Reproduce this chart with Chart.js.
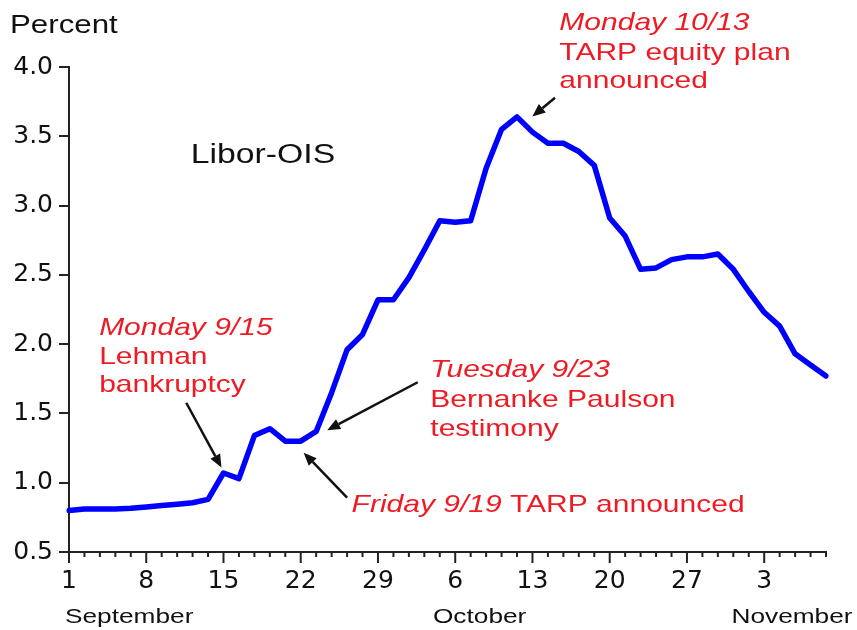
<!DOCTYPE html>
<html>
<head>
<meta charset="utf-8">
<title>Libor-OIS spread, autumn 2008</title>
<script src="https://cdn.jsdelivr.net/npm/chart.js@4.4.1/dist/chart.umd.min.js"></script>
<style>
  html, body { margin: 0; padding: 0; background: #fff; }
  #wrap { position: relative; width: 857px; height: 630px; }
</style>
</head>
<body>
<div id="wrap"><canvas id="chart"></canvas></div>
<script>
// business days, Mon 1 Sep – Fri 7 Nov 2008
const dayLabels = [
  1, 2, 3, 4, 5, 8, 9, 10, 11, 12,
  15, 16, 17, 18, 19, 22, 23, 24, 25, 26,
  29, 30, 1, 2, 3, 6, 7, 8, 9, 10,
  13, 14, 15, 16, 17, 20, 21, 22, 23, 24,
  27, 28, 29, 30, 31, 3, 4, 5, 6, 7
];
// Libor-OIS spread, percent
const liborOis = [
  0.80, 0.81, 0.81, 0.81, 0.815, 0.825, 0.835, 0.845, 0.855, 0.88,
  1.07, 1.03, 1.34, 1.39, 1.30, 1.30, 1.37, 1.65, 1.96, 2.07,
  2.32, 2.32, 2.48, 2.68, 2.89, 2.88, 2.89, 3.27, 3.55, 3.64,
  3.53, 3.45, 3.45, 3.39, 3.29, 2.91, 2.78, 2.54, 2.55, 2.61,
  2.63, 2.63, 2.65, 2.54, 2.38, 2.23, 2.13, 1.93, 1.85, 1.77
];
const monthNames = ["September", "October", "November"];
const yMin = 0.5, yMax = 4.0, yStep = 0.5;

const RED = "#ed1c24";
const INK = "#111";
const SANS = "'Liberation Sans', Arial, sans-serif";
const STRETCH = 1.25; // the original lettering is drawn wide

// callouts, anchored in data space (x = day index, y = percent)
const notes = [
  { x: 31.74, y: [4.269, 4.048, 3.852], lines: [["Monday 10/13", ""], ["", "TARP equity plan"], ["", "announced"]] },
  { x: 1.95, y: [2.068, 1.859, 1.657], lines: [["Monday 9/15", ""], ["", "Lehman"], ["", "bankruptcy"]] },
  { x: 23.39, y: [1.766, 1.543, 1.334], lines: [["Tuesday 9/23", ""], ["", "Bernanke Paulson"], ["", "testimony"]] },
  { x: 18.29, y: [0.789], lines: [["Friday 9/19", " TARP announced"]] }
];
const arrows = [
  [31.46, 3.778, 29.99, 3.643],
  [7.59, 1.577, 9.87, 1.109],
  [22.57, 1.725, 16.71, 1.379],
  [18.0, 0.893, 15.19, 1.217]
];

function wideText(ctx, text, x, y, font, color, align) {
  ctx.save();
  ctx.font = font;
  ctx.fillStyle = color;
  ctx.textAlign = "left";
  ctx.textBaseline = "alphabetic";
  const w = ctx.measureText(text).width * STRETCH;
  ctx.translate(align === "center" ? x - w / 2 : x, y);
  ctx.scale(STRETCH, 1);
  ctx.fillText(text, 0, 0);
  ctx.restore();
  return w;
}

function arrow(ctx, x1, y1, x2, y2) {
  const a = Math.atan2(y2 - y1, x2 - x1);
  const hl = 13, hw = 5.5;
  const bx = x2 - hl * Math.cos(a), by = y2 - hl * Math.sin(a);
  ctx.save();
  ctx.strokeStyle = INK;
  ctx.fillStyle = INK;
  ctx.lineWidth = 2.5;
  ctx.beginPath();
  ctx.moveTo(x1, y1);
  ctx.lineTo(bx, by);
  ctx.stroke();
  ctx.beginPath();
  ctx.moveTo(x2, y2);
  ctx.lineTo(bx + hw * Math.sin(a), by - hw * Math.cos(a));
  ctx.lineTo(bx - hw * Math.sin(a), by + hw * Math.cos(a));
  ctx.closePath();
  ctx.fill();
  ctx.restore();
}

const decorations = {
  id: "decorations",
  afterDraw(chart) {
    const ctx = chart.ctx;
    const xs = chart.scales.x, ys = chart.scales.y;
    const area = chart.chartArea;

    // day ticks: long on Mondays, short otherwise
    ctx.save();
    ctx.strokeStyle = "#222";
    ctx.lineWidth = 2;
    ctx.beginPath();
    dayLabels.forEach((_, i) => {
      const p = xs.getPixelForValue(i);
      ctx.moveTo(p, area.bottom);
      ctx.lineTo(p, area.bottom + (i % 5 === 0 ? 11 : 5));
    });
    ctx.stroke();
    ctx.restore();

    // month names under the day labels
    const monthFont = "21px " + SANS;
    wideText(ctx, monthNames[0], xs.getPixelForValue(-0.26), area.bottom + 71, monthFont, INK, "left");
    wideText(ctx, monthNames[1], xs.getPixelForValue(26.58), area.bottom + 71, monthFont, INK, "center");
    wideText(ctx, monthNames[2], xs.getPixelForValue(46.8), area.bottom + 71, monthFont, INK, "center");

    // axis unit and series name
    wideText(ctx, "Percent", area.left - 59, area.top - 34, "25px " + SANS, INK, "left");
    wideText(ctx, "Libor-OIS", xs.getPixelForValue(7.88), ys.getPixelForValue(3.309), "27px " + SANS, INK, "left");

    // red callouts
    notes.forEach((n) => {
      const x0 = xs.getPixelForValue(n.x);
      n.lines.forEach(([it, plain], k) => {
        const y = ys.getPixelForValue(n.y[k]);
        let x = x0;
        if (it) x += wideText(ctx, it, x, y, "italic 24px " + SANS, RED, "left");
        if (plain) wideText(ctx, plain, x, y, "24px " + SANS, RED, "left");
      });
    });

    arrows.forEach(([a, b, c, d]) => {
      arrow(ctx, xs.getPixelForValue(a), ys.getPixelForValue(b), xs.getPixelForValue(c), ys.getPixelForValue(d));
    });
  }
};

new Chart(document.getElementById("chart"), {
  type: "line",
  data: {
    labels: dayLabels,
    datasets: [{
      data: liborOis,
      borderColor: "#0000ff",
      borderWidth: 5.5,
      borderJoinStyle: "round",
      borderCapStyle: "round",
      pointRadius: 0,
      tension: 0,
      fill: false
    }]
  },
  options: {
    responsive: true,
    maintainAspectRatio: false,
    animation: false,
    events: [],
    layout: { padding: { left: 0, top: 67, right: 31, bottom: 0 } },
    plugins: { legend: { display: false }, tooltip: { enabled: false } },
    scales: {
      x: {
        type: "category",
        offset: false,
        grid: { display: false, drawTicks: false },
        border: { display: true, color: "#222", width: 2 },
        ticks: {
          autoSkip: false,
          maxRotation: 0,
          minRotation: 0,
          padding: 14,
          color: INK,
          font: { family: "'DejaVu Sans'", size: 25 },
          callback: (v, i) => (i % 5 === 0 ? String(dayLabels[i]) : "")
        },
        afterFit: (s) => { s.height = 78; }
      },
      y: {
        min: yMin,
        max: yMax,
        grid: { display: true, drawOnChartArea: false, drawTicks: true, tickLength: 10, color: "#222", lineWidth: 2 },
        border: { display: true, color: "#222", width: 2 },
        ticks: {
          stepSize: yStep,
          padding: 6,
          color: INK,
          font: { family: "'DejaVu Sans'", size: 25 },
          callback: (v) => Number(v).toFixed(1)
        },
        afterFit: (s) => { s.width = 69; }
      }
    }
  },
  plugins: [decorations]
});
</script>
</body>
</html>
